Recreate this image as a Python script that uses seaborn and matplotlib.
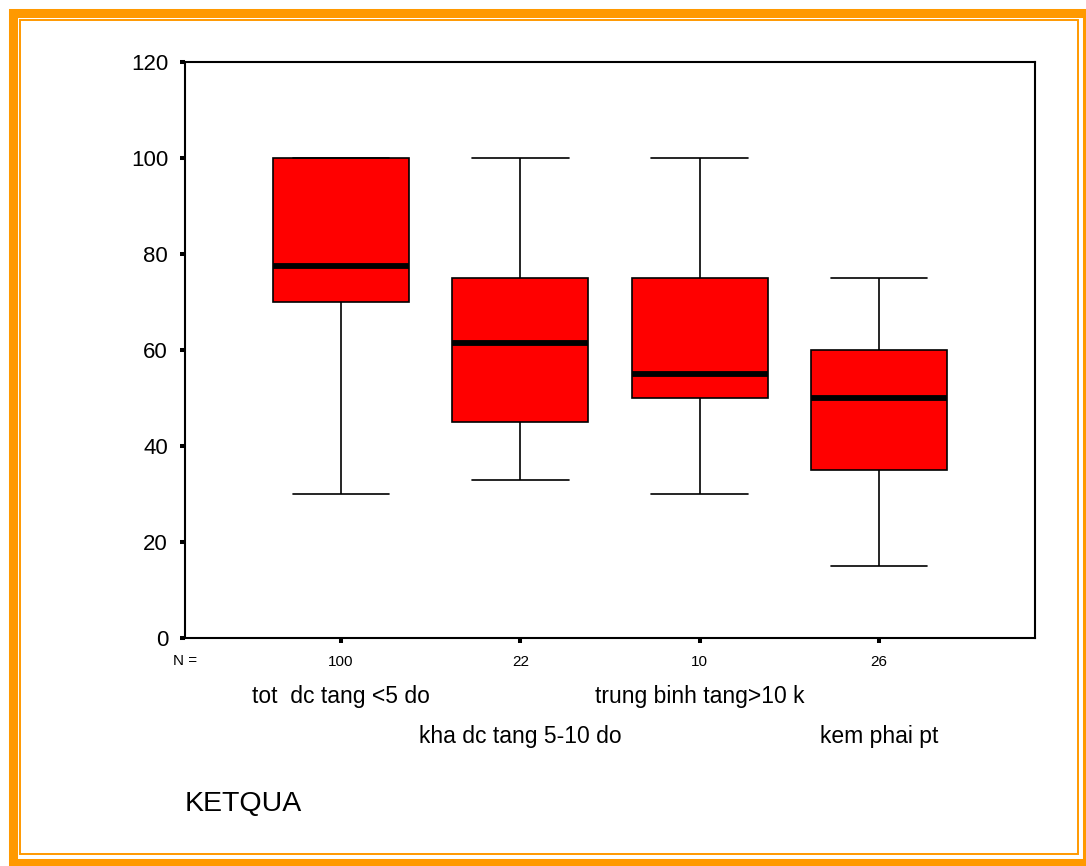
import numpy as np
import pandas as pd
import matplotlib
matplotlib.use("Agg")
import matplotlib.pyplot as plt
import matplotlib.transforms as mtransforms
from matplotlib.patches import Rectangle
import seaborn as sns

# five-number summaries
categories = ["tot  dc tang <5 do", "kha dc tang 5-10 do",
              "trung binh tang>10 k", "kem phai pt"]
counts = [100, 22, 10, 26]
lower_whisker = [30, 33, 30, 15]
q1 = [70, 45, 50, 35]
median = [77.5, 61.5, 55, 50]
q3 = [100, 75, 75, 60]
upper_whisker = [100, 100, 100, 75]

rows = []
for i, cat in enumerate(categories):
    for v in (lower_whisker[i], q1[i], median[i], q3[i], upper_whisker[i]):
        rows.append({"KETQUA": cat, "value": v})
df = pd.DataFrame(rows)

sns.set_style("ticks")
plt.rcParams["font.family"] = ["Liberation Sans", "DejaVu Sans"]
plt.rcParams["text.color"] = "black"
plt.rcParams["xtick.labelcolor"] = "black"
plt.rcParams["ytick.labelcolor"] = "black"

W, H = 1086, 866
fig = plt.figure(figsize=(W / 100, H / 100), dpi=100)
ax = fig.add_axes([185 / W, 1 - 638 / H, (1035 - 185) / W, (638 - 62) / H])

sns.boxplot(data=df, x="KETQUA", y="value", order=categories, ax=ax,
            color="#ff0000", saturation=1, linecolor="black", linewidth=1.2,
            width=0.76, whis=(0, 100), capwidths=0.54,
            medianprops=dict(color="black", linewidth=4.2))

ax.set_xlim(-0.87, 3.87)
ax.set_ylim(0, 120)
ax.set_yticks(range(0, 121, 20))
ax.set_xticks(range(len(categories)))
ax.set_xticklabels([str(n) for n in counts], fontsize=11)
ax.tick_params(axis="y", labelsize=16, length=3.6, width=2.9, pad=8.6,
               direction="out", color="black", labelcolor="black")
ax.tick_params(axis="x", length=3.6, width=2.9, pad=8.6,
               direction="out", color="black", labelcolor="black")
ax.set_xlabel("")
ax.set_ylabel("")
for sp in ax.spines.values():
    sp.set_visible(True)
    sp.set_color("black")
    sp.set_linewidth(1.5)

fig.text(185 / W, 1 - 661 / H, "N =", fontsize=11, ha="center", va="center",
         color="black")

trans = mtransforms.blended_transform_factory(ax.transData, fig.transFigure)
for i, cat in enumerate(categories):
    yy = 697 if i % 2 == 0 else 736
    ax.text(i, 1 - yy / H, cat, transform=trans, fontsize=16.5, color="black",
            ha="center", va="center", clip_on=False)

fig.text(185 / W, 1 - 804 / H, "KETQUA", fontsize=20.5, ha="left", va="center",
         color="black")

# orange frame around the picture
orange = "#ff9900"
fig.add_artist(Rectangle((12.5 / W, 1 - 862.5 / H), 1074 / W, 850 / H,
                         transform=fig.transFigure, fill=False,
                         edgecolor=orange, linewidth=6.5, clip_on=False))
fig.add_artist(Rectangle((20 / W, 1 - 854 / H), 1058 / W, 834 / H,
                         transform=fig.transFigure, fill=False,
                         edgecolor=orange, linewidth=1.4, clip_on=False))

fig.savefig("out.png", dpi=100, facecolor="white")
